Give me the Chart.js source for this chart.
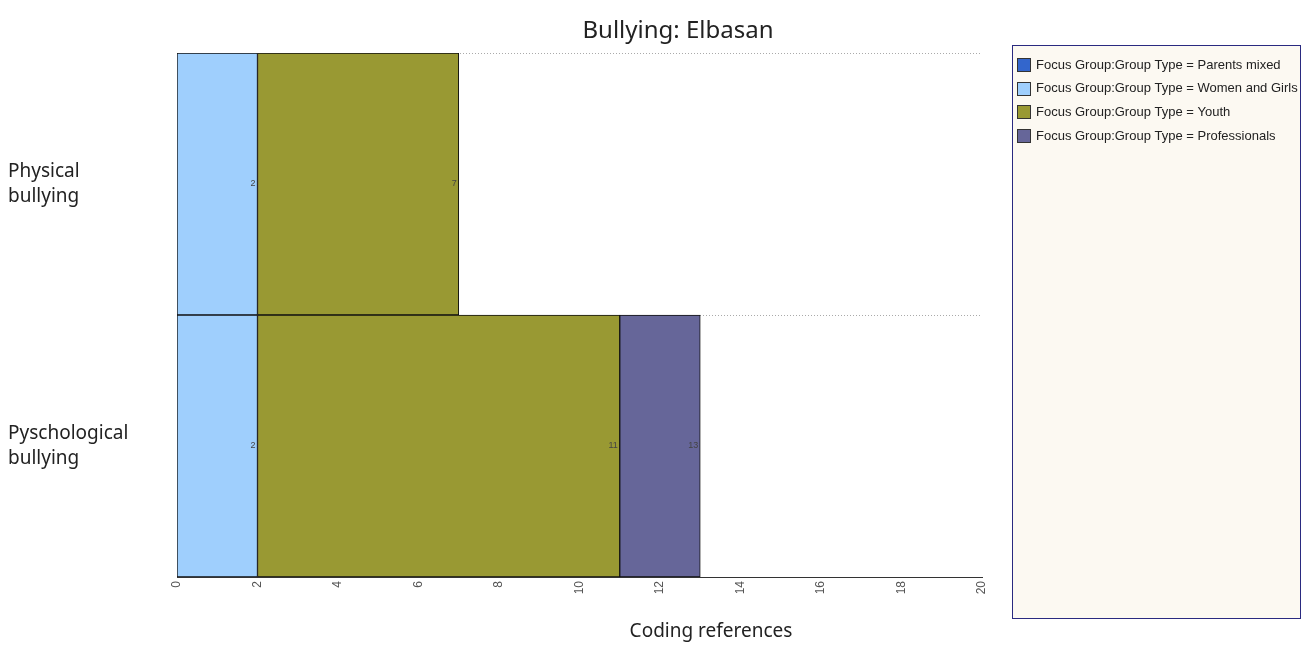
<!DOCTYPE html>
<html>
<head>
<meta charset="utf-8">
<title>Bullying: Elbasan</title>
<script src="https://cdn.jsdelivr.net/npm/chart.js@4/dist/chart.umd.min.js"></script>
<style>
  html, body { margin: 0; padding: 0; background: #fff; }
  #wrap { width: 1309px; height: 646px; position: relative; }
</style>
</head>
<body>
<div id="wrap"><canvas id="bullyChart"></canvas></div>
<script>
// categories and series
const categories = [['Physical', 'bullying'], ['Pyschological', 'bullying']];
const seriesNames = [
  'Focus Group:Group Type = Parents mixed',
  'Focus Group:Group Type = Women and Girls',
  'Focus Group:Group Type = Youth',
  'Focus Group:Group Type = Professionals'
];
const parentsMixed = [0, 0];
const womenAndGirls = [2, 2];
const youth = [5, 9];
const professionals = [0, 2];
const seriesColors = ['#3366cc', '#9fcffd', '#999933', '#666699'];
const xTicks = [0, 2, 4, 6, 8, 10, 12, 14, 16, 18, 20];

const seriesValues = [parentsMixed, womenAndGirls, youth, professionals];

const ctx = document.getElementById('bullyChart').getContext('2d');

// titles, legend box and the running totals at the bar ends
const decor = {
  id: 'decor',
  afterDraw(chart) {
    const c = chart.ctx;
    c.save();
    c.fillStyle = '#222';
    c.textAlign = 'center';
    c.textBaseline = 'middle';
    c.font = '24px "Noto Sans"';
    c.fillText('Bullying: Elbasan', 678, 31);
    c.font = '19px "Noto Sans"';
    c.fillText('Coding references', 711, 632);

    // running totals
    c.font = '9px Arial';
    c.fillStyle = '#444';
    c.textAlign = 'right';
    const totals = categories.map(() => 0);
    chart.data.datasets.forEach((ds, di) => {
      const meta = chart.getDatasetMeta(di);
      ds.data.forEach((v, i) => {
        totals[i] += v;
        if (v > 0) {
          const el = meta.data[i];
          c.fillText(String(totals[i]), el.x - 2, el.y);
        }
      });
    });

    // legend
    const lx = 1012, ly = 45, lw = 288, lh = 573;
    c.fillStyle = '#fcf9f2';
    c.fillRect(lx, ly, lw, lh);
    c.strokeStyle = '#2a2a80';
    c.lineWidth = 1;
    c.strokeRect(lx + 0.5, ly + 0.5, lw, lh);
    c.font = '13px Arial';
    c.textAlign = 'left';
    seriesNames.forEach((name, i) => {
      const y = 65 + i * 23.7;
      c.fillStyle = seriesColors[i];
      c.fillRect(1017, Math.round(y - 7), 14, 14);
      c.strokeStyle = '#333';
      c.strokeRect(1017.5, Math.round(y - 7) + 0.5, 13, 13);
      c.fillStyle = '#222';
      c.fillText(name, 1036, y);
    });
    c.restore();
  }
};

new Chart(ctx, {
  type: 'bar',
  data: {
    labels: categories,
    datasets: seriesNames.map((name, i) => ({
      label: name,
      data: seriesValues[i],
      backgroundColor: seriesColors[i],
      borderColor: '#111',
      borderWidth: 1,
      borderSkipped: false,
      barPercentage: 1,
      categoryPercentage: 1
    }))
  },
  options: {
    indexAxis: 'y',
    responsive: true,
    maintainAspectRatio: false,
    animation: false,
    layout: { padding: { top: 53, left: 8, right: 327, bottom: 0 } },
    scales: {
      x: {
        stacked: true,
        min: 0,
        max: 20,
        afterBuildTicks: (scale) => { scale.ticks = xTicks.map(v => ({ value: v })); },
        afterFit: (scale) => { scale.height = 69; },
        grid: { display: false },
        border: { display: true, color: '#333', width: 1 },
        ticks: {
          minRotation: 90,
          maxRotation: 90,
          padding: -4,
          color: '#555',
          font: { family: 'Arial', size: 12 }
        }
      },
      y: {
        stacked: true,
        afterFit: (scale) => { scale.width = 169; },
        grid: {
          display: true,
          offset: true,
          color: '#aaa',
          drawTicks: false
        },
        border: { display: true, color: '#333', width: 1, dash: [1, 2] },
        ticks: {
          crossAlign: 'far',
          color: '#222',
          font: { family: '"Noto Sans"', size: 19, lineHeight: 1.3 }
        }
      }
    },
    plugins: {
      legend: { display: false },
      title: { display: false },
      tooltip: { enabled: false }
    }
  },
  plugins: [decor]
});
</script>
</body>
</html>
